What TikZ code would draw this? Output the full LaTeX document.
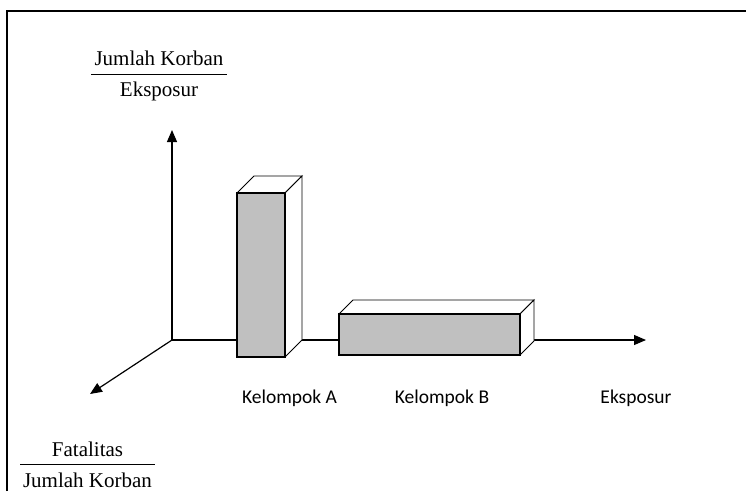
\documentclass[tikz,border=0pt]{standalone}
\usepackage{fontspec}
\setmainfont{Liberation Serif}
\newfontfamily\labelsans{Carlito}
\usetikzlibrary{arrows.meta}
\definecolor{barfill}{HTML}{C0C0C0}
\tikzset{
  axis/.style={line width=1.2pt,-{Triangle[length=12pt,width=10pt]}},
  frontface/.style={draw=black,fill=barfill,line width=1.8pt},
  backface/.style={draw=black,fill=white,line width=0.9pt,line join=miter},
  grouplabel/.style={font=\labelsans\fontsize{19.5}{23}\selectfont,anchor=base,inner sep=0pt},
  ratiotext/.style={font=\fontsize{21}{25}\selectfont,anchor=base,inner sep=0pt},
}
\begin{document}
\begin{tikzpicture}[x=1pt,y=-1pt]
\useasboundingbox (0,0) rectangle (746,491);
% outer frame (only top and left edges lie inside the page)
\draw[line width=1.5pt] (7,491) -- (7,11) -- (746,11);

% axes
\coordinate (O) at (172,340);
\coordinate (Ytip) at (172,130);
\coordinate (Xtip) at (646,340);
\coordinate (Ztip) at (90,394);
\draw[axis] (O) -- (Ytip);
\draw[axis] (O) -- (Xtip);
\draw[axis] (O) -- (Ztip);

% bar of group A
\draw[backface] (237,193) -- (254,176) -- (302,176) -- (285,193) -- cycle;
\draw[backface] (285,193) -- (302,176) -- (302,340) -- (285,357) -- cycle;
\draw[frontface] (237,193) rectangle (285,357);

% bar of group B
\draw[backface] (339,314) -- (353,300) -- (534,300) -- (520,314) -- cycle;
\draw[backface] (520,314) -- (534,300) -- (534,341) -- (520,355) -- cycle;
\draw[frontface] (339,314) rectangle (520,355);

% labels along the exposure axis
\node[grouplabel] (labA) at (289.5,403) {Kelompok A};
\node[grouplabel] (labB) at (442,403) {Kelompok B};
\node[grouplabel] (labX) at (636,403) {Eksposur};

% ratio on the vertical axis
\node[ratiotext] (yNum) at (159,65.5) {Jumlah Korban};
\node[ratiotext] (yDen) at (159,96) {Eksposur};
\draw[line width=1pt] (91,74) -- (227,74);

% ratio on the diagonal axis
\node[ratiotext] (zNum) at (87.5,456.5) {Fatalitas};
\node[ratiotext] (zDen) at (87.5,487) {Jumlah Korban};
\draw[line width=1pt] (20,464) -- (155,464);
\end{tikzpicture}
\end{document}
